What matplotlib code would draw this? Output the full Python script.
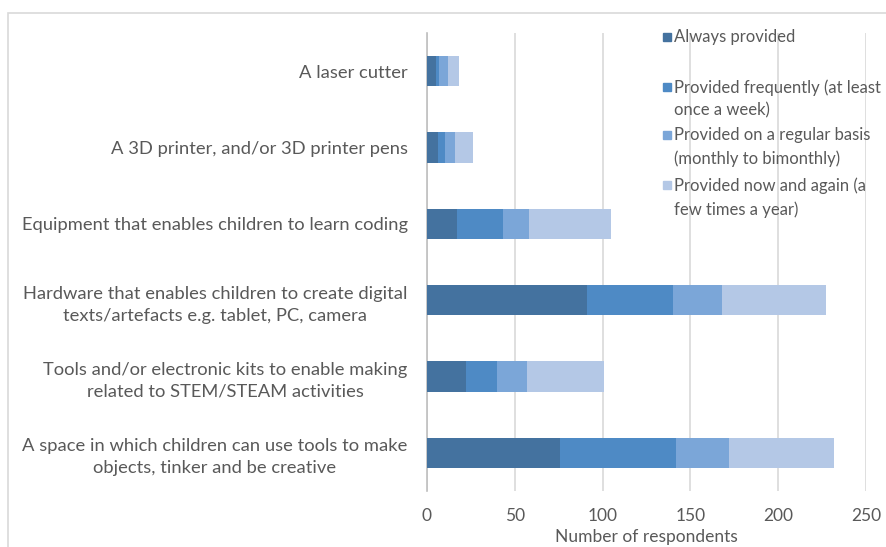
import matplotlib
matplotlib.use("Agg")
import matplotlib.pyplot as plt
from matplotlib.patches import Rectangle, FancyBboxPatch
import numpy as np

categories = [
    "A space in which children can use tools to make\nobjects, tinker and be creative",
    "Tools and/or electronic kits to enable making\nrelated to STEM/STEAM activities",
    "Hardware that enables children to create digital\ntexts/artefacts e.g. tablet, PC, camera",
    "Equipment that enables children to learn coding",
    "A 3D printer, and/or 3D printer pens",
    "A laser cutter",
]
series_names = [
    "Always provided",
    "Provided frequently (at least\nonce a week)",
    "Provided on a regular basis\n(monthly to bimonthly)",
    "Provided now and again (a\nfew times a year)",
]
always = [76, 22, 91, 17, 6, 5]
frequently = [66, 18, 49, 26, 4, 2]
regular = [30, 17, 28, 15, 6, 5]
now_and_again = [60, 44, 59, 47, 10, 6]
x_ticks = [0, 50, 100, 150, 200, 250]
x_label = "Number of respondents"

colors = ["#44729F", "#4E8AC5", "#7BA6D8", "#B4C8E6"]
text_color = "#595959"

plt.rcParams['font.family'] = ['Lato', 'DejaVu Sans']

fig = plt.figure(figsize=(8.87, 5.47), dpi=100)
ax = fig.add_axes([427/887, 1-491/547, (866-427)/887, (491-33)/547])

# chart border
fig.patches.append(FancyBboxPatch((8/887, -0.1), 1.0, (547-13)/547 + 0.1,
                                  boxstyle="square,pad=0", transform=fig.transFigure,
                                  fill=False, edgecolor="#D9D9D9", linewidth=1.2, zorder=0))

y = np.arange(len(categories))
left = np.zeros(len(categories))
for vals, c, name in zip([always, frequently, regular, now_and_again], colors, series_names):
    ax.barh(y, vals, left=left, height=0.4, color=c, label=name, zorder=3)
    left += np.array(vals)

ax.set_xlim(0, 250)
ax.set_ylim(-0.5, len(categories) - 0.5)
ax.set_xticks(x_ticks)
ax.set_xticklabels([str(t) for t in x_ticks])
ax.set_yticks(y)
ax.set_yticklabels(categories, multialignment='center', linespacing=1.45)
ax.tick_params(axis='y', length=0, colors=text_color, labelsize=13.2, pad=14)
ax.tick_params(axis='x', length=0, colors=text_color, labelsize=12.5, pad=12)
ax.xaxis.grid(True, color="#D9D9D9", linewidth=1.2, zorder=0)
for s in ['top', 'right', 'bottom']:
    ax.spines[s].set_visible(False)
ax.spines['left'].set_color("#BFBFBF")
ax.spines['left'].set_linewidth(1.2)
ax.set_xlabel(x_label, color=text_color, fontsize=12.5, labelpad=4)

# legend (manually placed, Excel-like spacing)
leg_y = [37, 87, 135, 185]
for name, c, yy in zip(series_names, colors, leg_y):
    fig.patches.append(Rectangle((663/887, 1-(yy+4)/547), 8/887, 8/547,
                                 transform=fig.transFigure, color=c, zorder=5))
    fig.text(674/887, 1-(yy-8)/547, name, color=text_color, fontsize=12,
             va='top', ha='left', linespacing=1.55, zorder=6)

fig.savefig("out.png", dpi=100)
